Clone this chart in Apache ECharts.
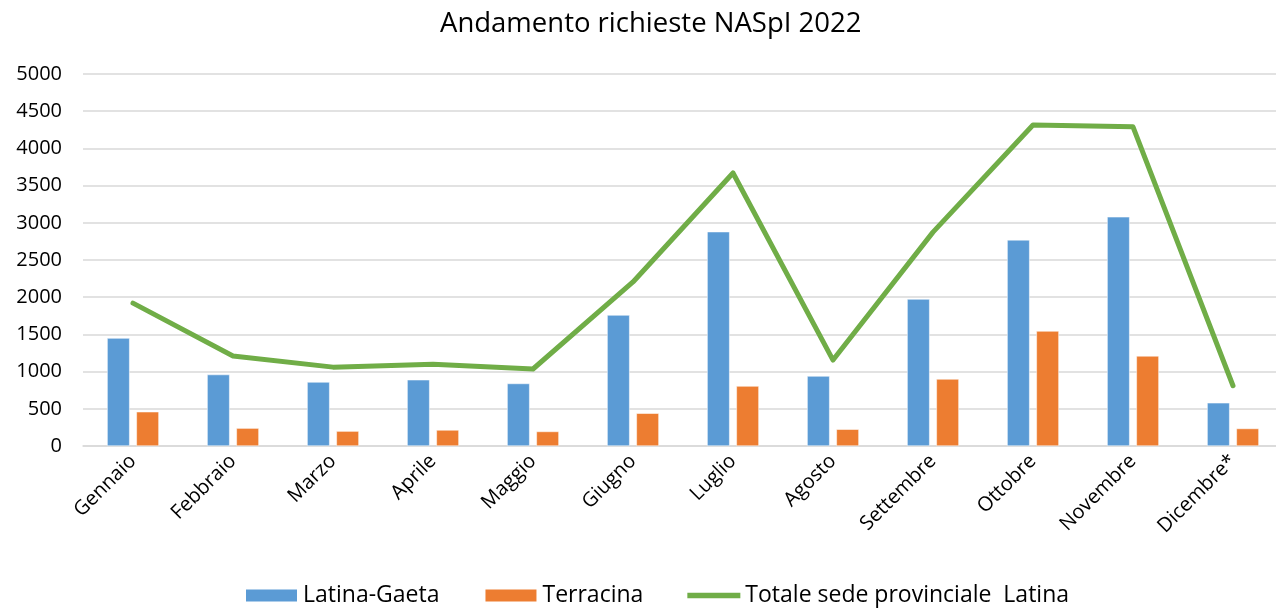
<!DOCTYPE html>
<html>
<head>
<meta charset="utf-8">
<script src="https://cdn.jsdelivr.net/npm/echarts@6/dist/echarts.min.js"></script>
<style>
    html, body { margin: 0; padding: 0; background: #fff; }
    #main { width: 1276px; height: 612px; }
</style>
</head>
<body>
<div id="main"></div>
<script>
    // mesi
    var months = ['Gennaio', 'Febbraio', 'Marzo', 'Aprile', 'Maggio', 'Giugno',
        'Luglio', 'Agosto', 'Settembre', 'Ottobre', 'Novembre', 'Dicembre*'];
    // richieste per sede
    var latinaGaeta = [1450, 960, 860, 890, 840, 1760, 2880, 940, 1975, 2770, 3080, 580];
    var terracina = [460, 240, 200, 215, 195, 440, 805, 225, 900, 1545, 1210, 235];
    var totale = [1920, 1210, 1060, 1100, 1035, 2205, 3670, 1155, 2875, 4315, 4290, 810];

    var font = 'Open Sans, Noto Sans, sans-serif';
    var myChart = echarts.init(document.getElementById('main'));

    var option = {
        title: {
            text: 'Andamento richieste NASpI 2022',
            left: 435,
            top: 5,
            textStyle: { fontFamily: font, fontSize: 27.5, fontWeight: 'normal', color: '#000' }
        },
        color: ['#5b9bd5', '#ed7d31', '#70ad47'],
        legend: {
            bottom: 0,
            left: 239,
            itemWidth: 53,
            itemHeight: 14,
            itemGap: 44,
            textStyle: { fontFamily: font, fontSize: 23, color: '#000' },
            data: [
                { name: 'Latina-Gaeta', icon: 'rect' },
                { name: 'Terracina', icon: 'rect' },
                { name: 'Totale sede provinciale  Latina', icon: 'path://M0,0 L53,0 L53,5.5 L0,5.5 Z', itemStyle: { color: '#70ad47' } }
            ]
        },
        // l'area del grafico sborda a destra come nell'originale
        grid: {
            left: 83,
            width: 1200,
            top: 74,
            bottom: 166,
            outerBoundsMode: 'none'
        },
        xAxis: {
            type: 'category',
            data: months,
            axisLine: { lineStyle: { color: '#d9d9d9', width: 1.5 } },
            axisTick: { show: false },
            axisLabel: {
                interval: 0,
                rotate: 45,
                margin: 12,
                fontFamily: font,
                fontSize: 20,
                color: '#000'
            }
        },
        yAxis: {
            type: 'value',
            min: 0,
            max: 5000,
            interval: 500,
            axisLine: { show: false },
            axisTick: { show: false },
            splitLine: { lineStyle: { color: '#d9d9d9', width: 1.5 } },
            axisLabel: {
                fontFamily: font,
                fontSize: 20,
                color: '#000',
                margin: 21,
                formatter: function (v) { return String(v); }
            }
        },
        series: [
            {
                name: 'Latina-Gaeta',
                type: 'bar',
                data: latinaGaeta,
                barWidth: 22.5,
                barGap: '30%',
                itemStyle: { borderColor: '#fff', borderWidth: 0.5 }
            },
            {
                name: 'Terracina',
                type: 'bar',
                data: terracina,
                barWidth: 22.5,
                itemStyle: { borderColor: '#fff', borderWidth: 0.5 }
            },
            {
                name: 'Totale sede provinciale  Latina',
                type: 'line',
                data: totale,
                symbol: 'none',
                lineStyle: { width: 5, color: '#70ad47', cap: 'round', join: 'round' }
            }
        ]
    };
    myChart.setOption(option);
</script>
</body>
</html>
